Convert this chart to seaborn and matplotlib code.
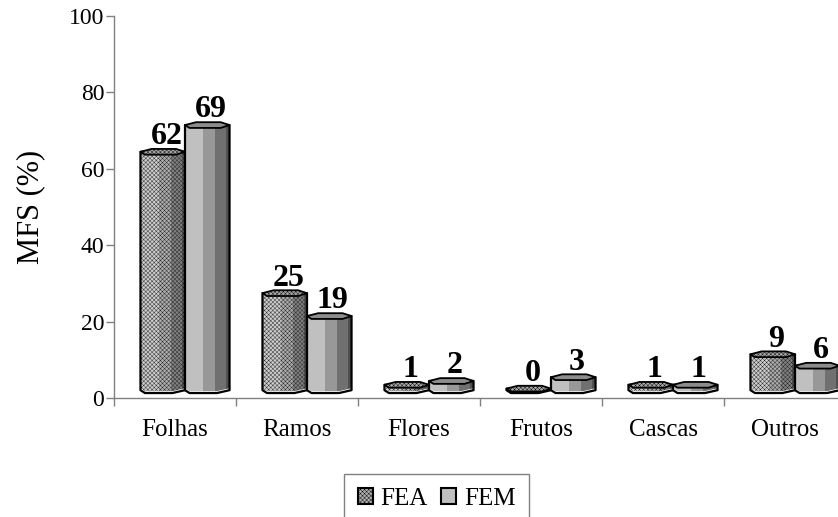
import matplotlib
matplotlib.use("Agg")
import matplotlib.pyplot as plt
from matplotlib.patches import Polygon, Patch
import pandas as pd
import seaborn as sns

categories = ["Folhas", "Ramos", "Flores", "Frutos", "Cascas", "Outros"]
fea = [62, 25, 1, 0, 1, 9]
fem = [69, 19, 2, 3, 1, 6]

sns.set_style("white")
plt.rcParams['font.family'] = ['Liberation Serif', 'DejaVu Serif']
plt.rcParams['hatch.linewidth'] = 0.3

df = pd.DataFrame({
    "parte": categories * 2,
    "grupo": ["FEA"] * 6 + ["FEM"] * 6,
    "valor": fea + fem,
})

fig = plt.figure(figsize=(8.38, 5.17), dpi=100)
ax = fig.add_axes([114 / 838, 119 / 517, 732 / 838, 382 / 517])

# base of the columns floats a little above the axis (old excel 3d look)
base = 2.05
sns.barplot(data=df, x="parte", y="valor", hue="grupo", order=categories,
            hue_order=["FEA", "FEM"], bottom=base, width=0.73, gap=0,
            palette=["#c0c0c0", "#c0c0c0"], ax=ax, legend=False)

bands = {
    "FEA": ["#cccccc", "#acacac", "#808080", "#5a5a5a"],
    "FEM": ["#c0c0c0", "#989898", "#707070", "#505050"],
}
tops = {"FEA": "#a8a8a8", "FEM": "#8c8c8c"}
edges = [0, 0.41, 0.68, 0.93, 1]
cap = 0.75     # half height of the top/bottom ellipse
lip = 0.4
rim = 0.5      # white band at the foot
shift = 0.082  # columns sit right of the category centre

bars = [p for p in ax.patches if p.get_width() > 0]
for i, p in enumerate(bars):
    grp = "FEA" if i < 6 else "FEM"
    hatch = "xxxxxxxx" if grp == "FEA" else None
    x0, w, y0 = p.get_x() + shift, p.get_width(), p.get_y()
    y1 = y0 + p.get_height() + lip
    p.set_visible(False)
    z = 3 + i % 6 + (i // 6) * 0.5

    low = [(x0, y0), (x0 + 0.1 * w, y0 - cap), (x0 + 0.72 * w, y0 - cap), (x0 + w, y0)]
    body = low + [(x0 + w, y1), (x0, y1)]
    ax.add_patch(Polygon(body, closed=True, fc="white", ec="none", zorder=z))

    # facets, clipped so the foot keeps a white rim
    inner = [(a, b + rim) for a, b in low] + [(x0 + w, y1), (x0, y1)]
    clip = Polygon(inner, closed=True, transform=ax.transData)
    for a, b, col in zip(edges[:-1], edges[1:], bands[grp]):
        c = ax.fill_between([x0 + a * w, x0 + b * w], y0 - cap, y1, color=col, lw=0, zorder=z)
        c.set_clip_path(clip)
        if hatch:
            c = ax.fill_between([x0 + a * w, x0 + b * w], y0 - cap, y1, facecolor="none",
                                edgecolor="#222222", hatch=hatch, lw=0, zorder=z)
            c.set_clip_path(clip)

    ax.add_patch(Polygon(body, closed=True, fc="none", ec="black", lw=1.6, zorder=z + 0.1,
                         joinstyle="round"))

    # flat top cap
    top = [(x0, y1), (x0 + 0.25 * w, y1 + cap), (x0 + 0.8 * w, y1 + cap), (x0 + w, y1),
           (x0 + 0.8 * w, y1 - cap), (x0 + 0.1 * w, y1 - cap)]
    ax.add_patch(Polygon(top, closed=True, fc=tops[grp], ec="black", lw=1.3, zorder=z + 0.2,
                         hatch=hatch, joinstyle="round"))
    vals = fea if grp == "FEA" else fem
    ax.text(x0 + w / 2 + 0.03, y1 + cap - 0.6, str(vals[i % 6]), ha="center", va="bottom",
            fontsize=23, fontweight="bold", color="black", zorder=20)

ax.set_ylim(0, 100)
ax.set_xlim(-0.5, 5.5)
ax.set_yticks(range(0, 101, 20))
ax.set_xticks([x - 0.5 for x in range(7)], minor=False)
ax.set_xticklabels([])
ax.set_xticks(range(6), labels=categories, minor=True)
ax.tick_params(axis="x", which="major", length=6, width=1, color="#808080", bottom=True)
ax.tick_params(axis="x", which="minor", length=0, pad=15, labelsize=18, labelcolor="black")
ax.tick_params(axis="y", length=6, width=1, color="#808080", left=True, labelsize=17, pad=1,
               labelcolor="black")
ax.set_xlabel("")
ax.set_ylabel("MFS (%)", fontsize=22, labelpad=17, color="black")
sns.despine(ax=ax)
for s in ["left", "bottom"]:
    ax.spines[s].set_color("#808080")
    ax.spines[s].set_linewidth(1)

handles = [Patch(fc="#b0b0b0", ec="black", lw=1.5, hatch="xxxxxxxx", label="FEA"),
           Patch(fc="#c0c0c0", ec="black", lw=1.5, label="FEM")]
leg = fig.legend(handles=handles, loc="upper left", bbox_to_anchor=(344 / 838, 1 - 474 / 517),
                 ncol=2, frameon=True, fancybox=False, edgecolor="#808080", framealpha=1,
                 labelcolor="black", fontsize=18, handlelength=0.6, handleheight=0.6,
                 handletextpad=0.3, columnspacing=0.55, borderaxespad=0, borderpad=0.55)
leg.get_frame().set_linewidth(1)

fig.savefig("out.png", dpi=100)
